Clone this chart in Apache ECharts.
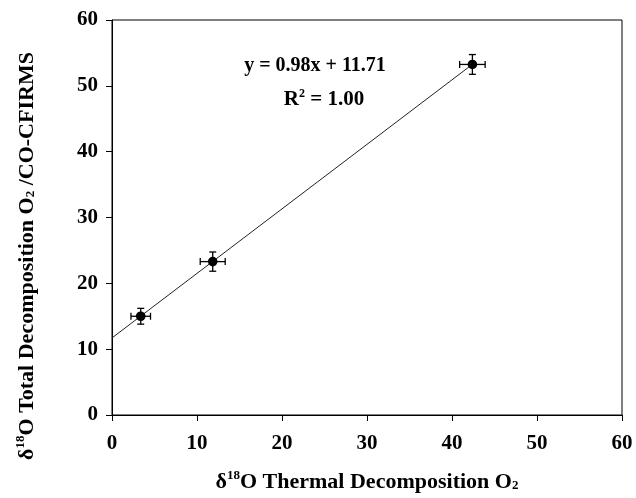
<!DOCTYPE html>
<html>
<head>
<meta charset="utf-8">
<script src="https://cdn.jsdelivr.net/npm/echarts@6/dist/echarts.min.js"></script>
<style>html,body{margin:0;padding:0;background:#fff;}#c{width:636px;height:498px;}</style>
</head>
<body>
<div id="c"></div>
<script>
const xThermal = [3.38, 11.85, 42.4];
const yTotal = [15.0, 23.3, 53.25];
const xErr = [1.15, 1.47, 1.5];
const yErr = [1.2, 1.46, 1.5];
const slope = 0.98;
const intercept = 11.71;
const fitRange = [0, 42.4];
const xTicks = [0, 10, 20, 30, 40, 50, 60];
const yTicks = [0, 10, 20, 30, 40, 50, 60];

const FONT = '"Liberation Serif", "Times New Roman", serif';
const chart = echarts.init(document.getElementById('c'));
const pts = xThermal.map((x, i) => [x, yTotal[i], xErr[i], yErr[i]]);
const fitLine = fitRange.map(x => [x, slope * x + intercept]);

const titleRich = {
  a: { fontFamily: FONT, fontWeight: 'bold', fontSize: 22, color: '#000', fill: '#000' },
  sup: { fontFamily: FONT, fontWeight: 'bold', fontSize: 13, color: '#000', fill: '#000', verticalAlign: 'bottom', padding: [0, 0, 13, 0] },
  sub: { fontFamily: FONT, fontWeight: 'bold', fontSize: 13, color: '#000', fill: '#000', verticalAlign: 'top', padding: [10, 0, 0, 0] }
};

chart.setOption({
  animation: false,
  backgroundColor: '#fff',
  grid: { left: 112, right: 14, top: 20, bottom: 80, show: true, borderColor: '#000', borderWidth: 1 },
  xAxis: {
    type: 'value', min: 0, max: 60, interval: 10,
    axisLine: { onZero: false, lineStyle: { color: '#000', width: 1 } },
    axisTick: { show: true, length: 6, lineStyle: { color: '#000' } },
    splitLine: { show: false },
    axisLabel: { color: '#000', fontFamily: FONT, fontWeight: 'bold', fontSize: 21, margin: 18 },
    name: '{a|δ}{sup|18}{a|O Thermal Decomposition O}{sub|2}',
    nameLocation: 'middle', nameGap: 54,
    nameTextStyle: { rich: titleRich }
  },
  yAxis: {
    type: 'value', min: 0, max: 60, interval: 10,
    axisLine: { onZero: false, lineStyle: { color: '#000', width: 1 } },
    axisTick: { show: true, length: 6, lineStyle: { color: '#000' } },
    splitLine: { show: false },
    axisLabel: { color: '#000', fontFamily: FONT, fontWeight: 'bold', fontSize: 21, margin: 14 }
  },
  series: [
    {
      type: 'line', data: fitLine, symbol: 'none',
      lineStyle: { color: '#222', width: 1 }, z: 2
    },
    {
      type: 'custom', data: pts, z: 3,
      renderItem: function (params, api) {
        const x = api.value(0), y = api.value(1), ex = api.value(2), ey = api.value(3);
        const c = api.coord([x, y]);
        const l = api.coord([x - ex, y]), r = api.coord([x + ex, y]);
        const t = api.coord([x, y + ey]), b = api.coord([x, y - ey]);
        const cap = 3.5;
        const st = { stroke: '#000', lineWidth: 1.3 };
        return {
          type: 'group',
          children: [
            { type: 'line', shape: { x1: l[0], y1: l[1], x2: r[0], y2: r[1] }, style: st },
            { type: 'line', shape: { x1: t[0], y1: t[1], x2: b[0], y2: b[1] }, style: st },
            { type: 'line', shape: { x1: l[0], y1: l[1] - cap, x2: l[0], y2: l[1] + cap }, style: st },
            { type: 'line', shape: { x1: r[0], y1: r[1] - cap, x2: r[0], y2: r[1] + cap }, style: st },
            { type: 'line', shape: { x1: t[0] - cap, y1: t[1], x2: t[0] + cap, y2: t[1] }, style: st },
            { type: 'line', shape: { x1: b[0] - cap, y1: b[1], x2: b[0] + cap, y2: b[1] }, style: st },
            { type: 'circle', shape: { cx: c[0], cy: c[1], r: 4.8 }, style: { fill: '#000' } }
          ]
        };
      }
    }
  ],
  graphic: [
    {
      type: 'text', x: 27, y: 256, rotation: Math.PI / 2,
      style: {
        text: '{a|δ}{sup|18}{a|O Total Decomposition O}{sub|2}{a| /CO-CFIRMS}',
        rich: titleRich, align: 'center', verticalAlign: 'middle'
      }
    },
    {
      type: 'text', x: 315, y: 66,
      style: { text: 'y = 0.98x + 11.71', font: 'bold 20px ' + FONT, fill: '#000', align: 'center', verticalAlign: 'middle' }
    },
    {
      type: 'text', x: 324, y: 100,
      style: {
        text: '{a|R}{sup|2}{a| = 1.00}', align: 'center', verticalAlign: 'middle',
        rich: {
          a: { fontFamily: FONT, fontWeight: 'bold', fontSize: 21, fill: '#000' },
          sup: { fontFamily: FONT, fontWeight: 'bold', fontSize: 12, fill: '#000', verticalAlign: 'bottom', padding: [0, 0, 13, 0] }
        }
      }
    }
  ]
});
</script>
</body>
</html>
